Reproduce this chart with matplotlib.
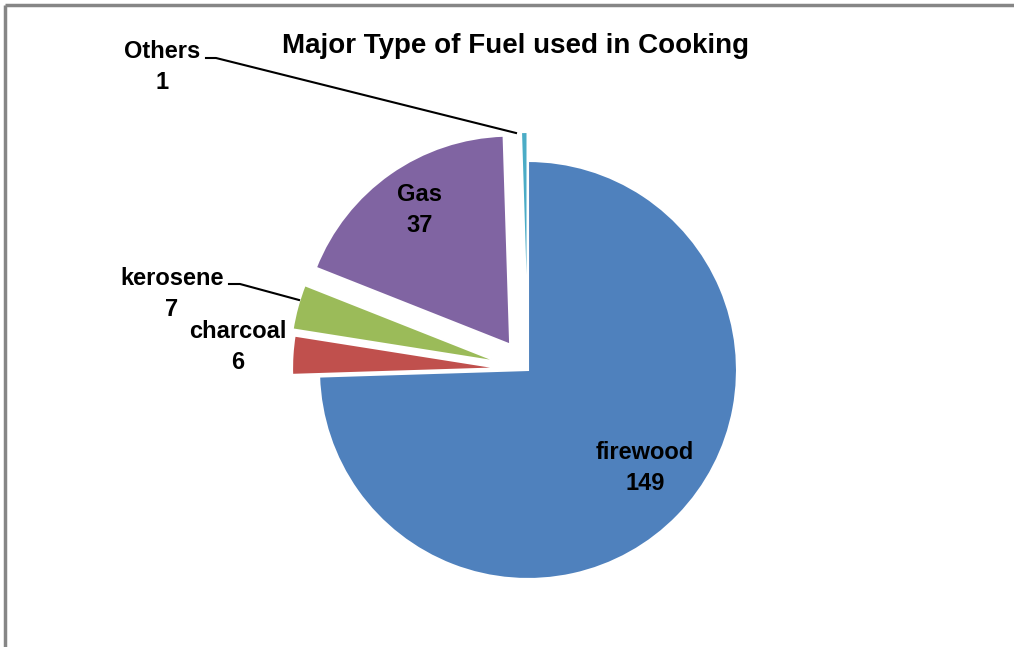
import matplotlib.pyplot as plt

W, H = 1014, 647

fuels = ['firewood', 'charcoal', 'kerosene', 'Gas', 'Others']
counts = [149, 6, 7, 37, 1]
colors = ['#4F81BD', '#C0504D', '#9BBB59', '#8064A2', '#4BACC6']
# explode distances in pixels (pie is drawn in pixel-sized data units)
explode = [0, 27, 30, 31, 29]

plt.rcParams['font.family'] = ['Liberation Sans', 'DejaVu Sans']

fig = plt.figure(figsize=(W / 100, H / 100), dpi=100)
ax = fig.add_axes([0, 0, 1, 1])


def py(y):
    # pixel row -> data y
    return H - y


ax.pie(counts, colors=colors, explode=explode, startangle=90, counterclock=False,
       center=(528, py(370)), radius=209, frame=True,
       wedgeprops=dict(edgecolor='white', linewidth=1.5))
ax.set_xlim(0, W)
ax.set_ylim(0, H)
ax.set_aspect('equal')
ax.axis('off')

# chart border (top and left visible)
ax.plot([5, 5], [py(5), 0], color='#868686', lw=2.5, solid_capstyle='butt')
ax.plot([5, W], [py(5), py(5)], color='#868686', lw=2.5, solid_capstyle='butt')

ax.text(516, py(46), 'Major Type of Fuel used in Cooking', ha='center', va='center',
        fontsize=20, fontweight='bold')

lbl = dict(ha='center', va='center', fontsize=17, fontweight='bold', linespacing=1.4)
ax.text(645, py(468), f'{fuels[0]}\n{counts[0]}', **lbl)
ax.text(238, py(347), f'{fuels[1]}\n{counts[1]}', **lbl)
ax.text(172, py(294), f'{fuels[2]}\n{counts[2]}', **lbl)
ax.text(420, py(210), f'{fuels[3]}\n{counts[3]}', **lbl)
ax.text(162, py(67), f'{fuels[4]}\n{counts[4]}', **lbl)

# leader lines
ax.plot([206, 216, 516], [py(58), py(58), py(133)], color='black', lw=1.5)
ax.plot([229, 240, 299], [py(284), py(284), py(300)], color='black', lw=1.5)

fig.savefig('out.png', dpi=100)
